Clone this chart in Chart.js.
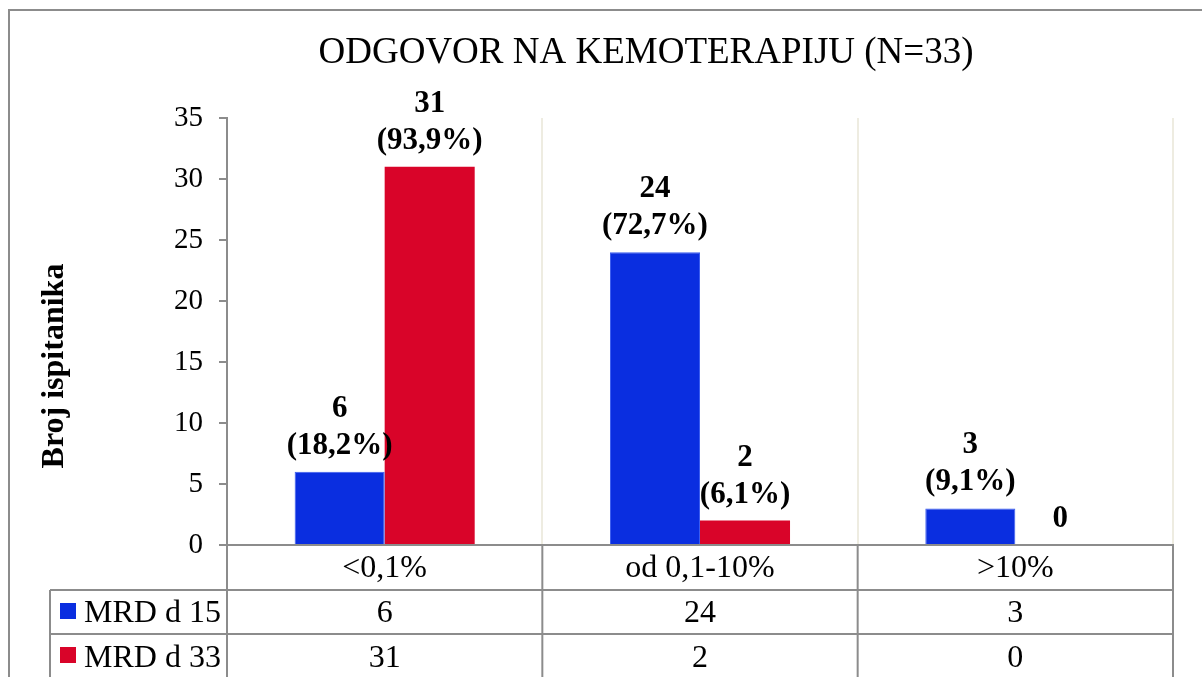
<!DOCTYPE html>
<html>
<head>
<meta charset="utf-8">
<script src="https://cdn.jsdelivr.net/npm/chart.js@4/dist/chart.umd.min.js"></script>
<style>
  html, body { margin: 0; padding: 0; background: #fff; }
  #grafico { display: block; }
</style>
</head>
<body>
<canvas id="grafico" width="1202" height="677"></canvas>
<script>
// Datos del grafico
const naslov = 'ODGOVOR NA KEMOTERAPIJU (N=33)';
const osY = 'Broj ispitanika';
const kategorije = ['<0,1%', 'od 0,1-10%', '>10%'];
const serije = ['MRD d 15', 'MRD d 33'];
const mrdD15 = [6, 24, 3];
const mrdD33 = [31, 2, 0];
const postoD15 = ['18,2%', '72,7%', '9,1%'];
const postoD33 = ['93,9%', '6,1%', null];
const yMax = 35;
const yKorak = 5;

const boje = ['#0A2EE0', '#D90429'];
const siva = '#8c8c8c';
const bez = '#EEECE1';
const font = '"Liberation Serif", "Times New Roman", serif';

Chart.defaults.font.family = font;
Chart.defaults.color = '#000';

// etikete iznad stubova
const etiketePlugin = {
  id: 'etikete',
  afterDatasetsDraw(chart) {
    const ctx = chart.ctx;
    const procenti = [postoD15, postoD33];
    ctx.save();
    ctx.font = 'bold 31px ' + font;
    ctx.fillStyle = '#000';
    ctx.textAlign = 'center';
    ctx.textBaseline = 'alphabetic';
    chart.data.datasets.forEach((ds, di) => {
      chart.getDatasetMeta(di).data.forEach((bar, i) => {
        const p = procenti[di][i];
        if (p) {
          ctx.fillText(String(ds.data[i]), bar.x, bar.y - 55);
          ctx.fillText('(' + p + ')', bar.x, bar.y - 18);
        } else {
          ctx.fillText(String(ds.data[i]), bar.x, bar.y - 18);
        }
      });
    });
    ctx.restore();
  }
};

// naslov, okvir i tabela podataka ispod grafika
const tabelaPlugin = {
  id: 'tabela',
  afterDraw(chart) {
    const ctx = chart.ctx;
    const a = chart.chartArea;
    const x = chart.scales.x;
    const w = (a.right - a.left) / kategorije.length;
    const redovi = [a.bottom, a.bottom + 45, a.bottom + 89, chart.height + 2];
    const levo = 50;
    ctx.save();

    // okvir
    ctx.strokeStyle = siva;
    ctx.lineWidth = 2;
    ctx.beginPath();
    ctx.moveTo(9, chart.height);
    ctx.lineTo(9, 10);
    ctx.lineTo(chart.width, 10);
    ctx.stroke();

    // naslov
    ctx.fillStyle = '#000';
    ctx.font = '37px ' + font;
    ctx.textAlign = 'center';
    ctx.textBaseline = 'alphabetic';
    ctx.fillText(naslov, 646, 63);

    // naslov ose Y
    ctx.save();
    ctx.translate(63, 366);
    ctx.rotate(-Math.PI / 2);
    ctx.font = 'bold 32px ' + font;
    ctx.fillText(osY, 0, 0);
    ctx.restore();

    // linije tabele
    ctx.strokeStyle = siva;
    ctx.lineWidth = 2;
    ctx.beginPath();
    [redovi[1], redovi[2]].forEach(yy => {
      ctx.moveTo(levo, yy);
      ctx.lineTo(a.right + 1, yy);
    });
    ctx.moveTo(levo, redovi[1]);
    ctx.lineTo(levo, redovi[3]);
    for (let i = 0; i <= kategorije.length; i++) {
      const xx = a.left + w * i;
      ctx.moveTo(xx, a.bottom);
      ctx.lineTo(xx, redovi[3]);
    }
    ctx.stroke();

    // tekst tabele
    ctx.font = '32px ' + font;
    ctx.textAlign = 'center';
    kategorije.forEach((k, i) => {
      const cx = x.getPixelForValue(i);
      ctx.fillText(k, cx, redovi[0] + 32);
      ctx.fillText(String(mrdD15[i]), cx, redovi[1] + 32);
      ctx.fillText(String(mrdD33[i]), cx, redovi[2] + 33);
    });

    // legenda u tabeli
    ctx.textAlign = 'left';
    serije.forEach((s, i) => {
      const top = redovi[i + 1];
      ctx.fillStyle = boje[i];
      ctx.fillRect(60, top + 13, 16, 16);
      ctx.fillStyle = '#000';
      ctx.fillText(s, 84, top + 32 + i);
    });
    ctx.restore();
  }
};

new Chart(document.getElementById('grafico'), {
  type: 'bar',
  data: {
    labels: kategorije,
    datasets: [
      { label: serije[0], data: mrdD15, backgroundColor: boje[0], borderColor: '#3a5cf0', borderWidth: 1 },
      { label: serije[1], data: mrdD33, backgroundColor: boje[1], borderColor: boje[1], borderWidth: 0 }
    ]
  },
  options: {
    responsive: false,
    devicePixelRatio: 1,
    animation: false,
    layout: { padding: { left: 0, top: 118, right: 29, bottom: 132 } },
    datasets: { bar: { categoryPercentage: 0.571, barPercentage: 1 } },
    plugins: {
      legend: { display: false },
      title: { display: false },
      tooltip: { enabled: false }
    },
    scales: {
      x: {
        ticks: { display: false },
        grid: {
          offset: true,
          drawTicks: false,
          lineWidth: 2,
          color: c => (c.index === 0 ? 'rgba(0,0,0,0)' : bez)
        },
        border: { display: true, color: siva, width: 2 },
        afterFit: s => { s.height = 0; }
      },
      y: {
        min: 0,
        max: yMax,
        ticks: { stepSize: yKorak, padding: 16, font: { size: 29 }, color: '#000' },
        grid: { drawOnChartArea: false, drawTicks: true, tickLength: 8, tickColor: siva, lineWidth: 2 },
        border: { display: true, color: siva, width: 2 },
        afterFit: s => { s.width = 227; }
      }
    }
  },
  plugins: [etiketePlugin, tabelaPlugin]
});
</script>
</body>
</html>
